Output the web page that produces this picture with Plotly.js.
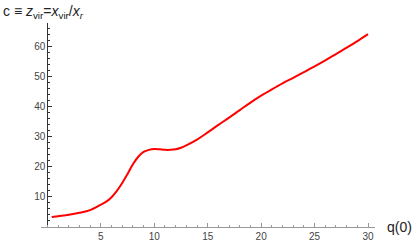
<!DOCTYPE html>
<html><head><meta charset="utf-8">
<script src="https://cdn.plot.ly/plotly-3.0.1.min.js"></script>
<style>html,body{margin:0;padding:0;background:#fff}#g{width:415px;height:243px}</style>
</head><body><div id="g"></div>
<script>
const q0 = [0.4, 1, 2, 3, 4, 5, 5.5, 6, 6.5, 7, 7.5, 8, 8.5, 9, 9.5, 10, 10.5, 11, 11.5, 12, 12.5, 13, 14, 15, 16, 17, 18, 19, 20, 21, 22, 23, 24, 25, 26, 27, 28, 29, 30];
const cvir = [3.3, 3.6, 4.1, 4.7, 5.6, 7.4, 8.4, 9.9, 12, 14.6, 17.6, 20.8, 23.3, 24.9, 25.6, 25.9, 25.8, 25.6, 25.6, 25.8, 26.3, 27.1, 29.0, 31.4, 33.9, 36.3, 38.8, 41.3, 43.6, 45.7, 47.7, 49.5, 51.4, 53.3, 55.3, 57.4, 59.5, 61.7, 64];
const xTicks = [5, 10, 15, 20, 25, 30];
const yTicks = [10, 20, 30, 40, 50, 60];
const xLabel = "q(0)";
const yLabel = "c ≡ <i>z</i><sub>vir</sub>=<i>x</i><sub>vir</sub>/<i>x<sub>r</sub></i>";

const axisCol = "#999999";
const tickFont = {family: "Liberation Sans, Arial, sans-serif", size: 10, color: "#444"};
const xr = [-0.6, 30.65];
const layout = {
  width: 415, height: 243,
  margin: {l: 41, r: 40, t: 23, b: 16},
  paper_bgcolor: "#fff", plot_bgcolor: "#fff",
  showlegend: false,
  xaxis: {
    range: xr, showgrid: false, zeroline: false,
    showline: true, linecolor: axisCol, linewidth: 1,
    tickmode: "array", tickvals: xTicks, ticktext: xTicks.map(String),
    ticks: "inside", ticklen: 4, tickcolor: axisCol, tickwidth: 1,
    minor: {ticks: "inside", dtick: 1, tick0: 0, ticklen: 2, tickcolor: axisCol},
    tickfont: tickFont
  },
  yaxis: {
    range: [0, 67.7], showgrid: false, zeroline: false,
    anchor: "free", position: (0 - xr[0]) / (xr[1] - xr[0]),
    showline: true, linecolor: "#333", linewidth: 1,
    tickmode: "array", tickvals: yTicks, ticktext: yTicks.map(String),
    ticks: "inside", ticklen: 4, tickcolor: "#333", tickwidth: 1,
    minor: {ticks: "inside", dtick: 2, tick0: 0, ticklen: 2, tickcolor: "#333"},
    tickfont: tickFont
  },
  annotations: [
    {text: xLabel, xref: "paper", yref: "paper", x: 1.03, y: 0, xanchor: "left", yanchor: "middle",
     showarrow: false, font: {family: "Liberation Sans, Arial, sans-serif", size: 14, color: "#222"}},
    {text: yLabel, xref: "paper", yref: "paper", x: -0.12, y: 1.0, xanchor: "left", yanchor: "bottom",
     showarrow: false, font: {family: "Liberation Sans, Arial, sans-serif", size: 14, color: "#222"}}
  ]
};
Plotly.newPlot("g", [{
  x: q0, y: cvir, type: "scatter", mode: "lines",
  line: {color: "#ff0000", width: 2, shape: "spline", smoothing: 1},
  hoverinfo: "skip"
}], layout, {staticPlot: true, displayModeBar: false});
</script></body></html>
